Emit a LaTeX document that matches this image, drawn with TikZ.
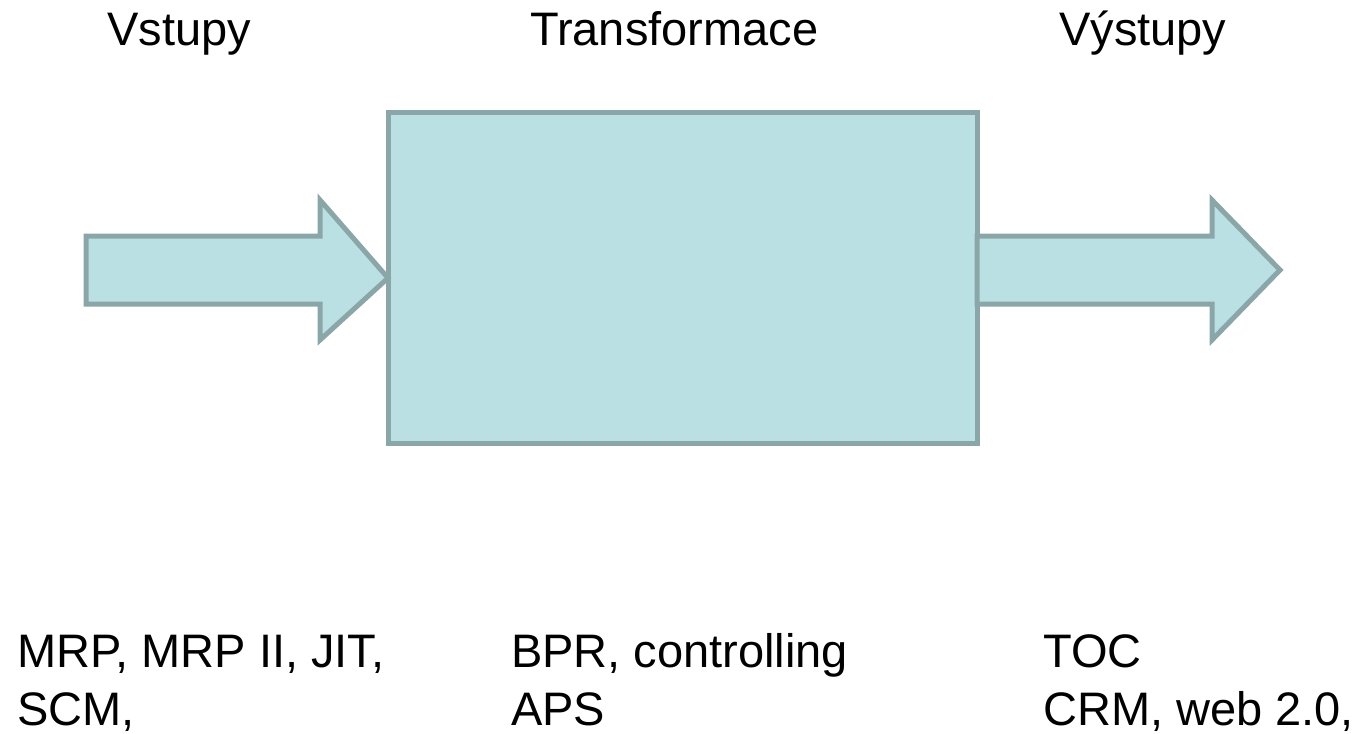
\documentclass[tikz,border=0pt]{standalone}
\usepackage{fontspec}
\setmainfont{Liberation Sans}
\definecolor{boxfill}{HTML}{BAE0E3}
\definecolor{boxline}{HTML}{8AA6A8}
\begin{document}
\begin{tikzpicture}[x=1pt,y=-1pt,
  shapestyle/.style={fill=boxfill,draw=boxline,line width=5pt,line join=miter},
  label/.style={anchor=base west,inner sep=0pt,font=\fontsize{47}{58}\selectfont}]
  \useasboundingbox (0,0) rectangle (1364,733);

  % transformation block
  \node[shapestyle,rectangle,anchor=north west,minimum width=589pt,minimum height=330pt,inner sep=0pt,outer sep=0pt]
    (trans) at (388,113) {};

  % input arrow, its tip on the block's left edge
  \coordinate (intip) at (trans.west);
  \draw[shapestyle] (86,236) -- (320,236) -- (320,200) -- (intip) -- (320,340) -- (320,304) -- (86,304) -- cycle;

  % output arrow, leaving the block's right edge
  \coordinate (outtip) at (1280,270);
  \draw[shapestyle] (trans.east |- 0,236) -- (1212,236) -- (1212,200) -- (outtip) -- (1212,340) -- (1212,304) -- (trans.east |- 0,304) -- cycle;

  % headings
  \node[label] (hin)  at (107,46) {Vstupy};
  \node[label] (htr)  at (530,46) {Transformace};
  \node[label] (hout) at (1059,46) {Výstupy};

  % methods under each stage
  \node[label] (in1)  at (17,667)  {MRP, MRP II, JIT,};
  \node[label] (in2)  at (17,725)  {SCM,};
  \node[label] (tr1)  at (511,667) {BPR, controlling};
  \node[label] (tr2)  at (511,725) {APS};
  \node[label] (out1) at (1043,667) {TOC};
  \node[label] (out2) at (1043,725) {CRM, web 2.0,};
\end{tikzpicture}
\end{document}
